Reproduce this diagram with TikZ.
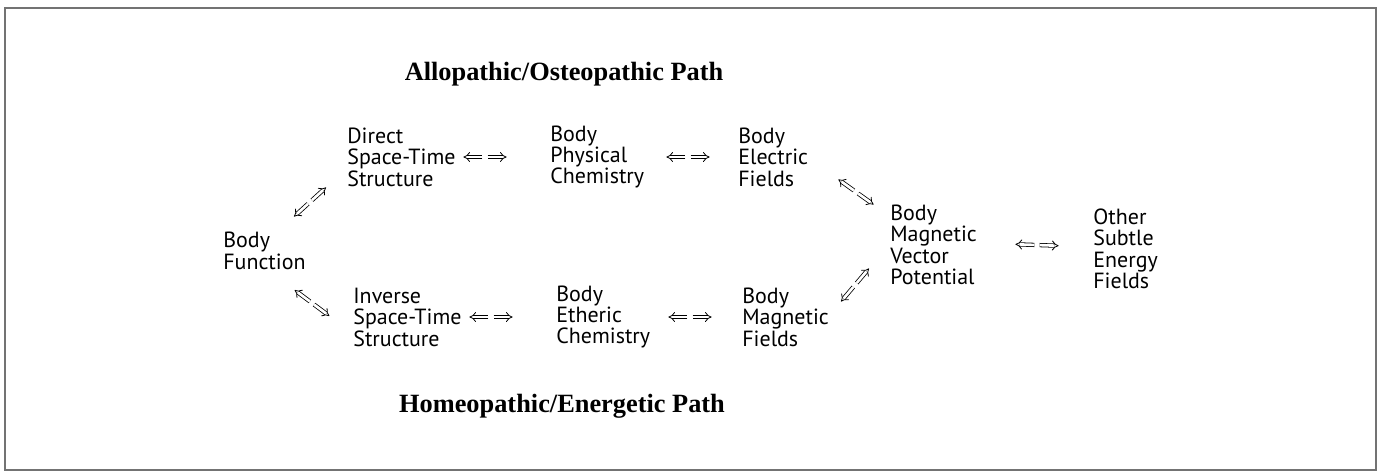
\documentclass[tikz,border=0pt]{standalone}
\usepackage{fontspec}
\setmainfont{Liberation Serif}
\newfontfamily\termfont{PT Sans}
\usetikzlibrary{arrows.meta,calc}

\newcommand\twoway[3]{%
  \draw[imp] let \p1=($(#3)-(#2)$), \n1={atan2(\y1,\x1)} in
    ($(#1)+(\n1+180:1.5pt)$) -- ($(#1)+(\n1+180:12.3pt)$);
  \draw[imp] let \p1=($(#3)-(#2)$), \n1={atan2(\y1,\x1)} in
    ($(#1)+(\n1:1.5pt)$) -- ($(#1)+(\n1:12.3pt)$);}

\begin{document}
\begin{tikzpicture}[
  x=0.02cm,y=-0.02cm,
  frame/.style={draw=black!55,line width=0.7pt},
  term/.style={font=\termfont\fontsize{12.5}{12.2}\selectfont,align=left,inner sep=0pt,anchor=west},
  heading/.style={font=\bfseries\fontsize{15}{16}\selectfont,inner sep=0pt},
  imp/.style={double,double distance=1.5pt,line width=0.45pt,-{Implies}},
]
\useasboundingbox (0,0) rectangle (1381,471);
\draw[frame] (5,8) rectangle (1376,470);

\node[heading] (allo) at (564,74) {Allopathic/Osteopathic Path};
\node[heading] (homeo) at (562,406) {Homeopathic/Energetic Path};

\node[term] (func) at (223,251) {Body\\Function};
\node[term] (direct) at (347,157) {Direct\\Space-Time\\Structure};
\node[term] (phys) at (550,157) {Body\\Physical\\Chemistry};
\node[term] (elec) at (738,157) {Body\\Electric\\Fields};
\node[term] (inv) at (353,317) {Inverse\\Space-Time\\Structure};
\node[term] (ether) at (556,317) {Body\\Etheric\\Chemistry};
\node[term] (magf) at (742,317) {Body\\Magnetic\\Fields};
\node[term] (vecpot) at (890,245) {Body\\Magnetic\\Vector\\Potential};
\node[term] (other) at (1093,249) {Other\\Subtle\\Energy\\Fields};

\coordinate (h1) at (485,157);
\coordinate (h2) at (688,157);
\coordinate (h3) at (491,317);
\coordinate (h4) at (690,317);
\coordinate (h5) at (1037,245);
\coordinate (d1) at (310,202);
\coordinate (d2) at (312,303);
\coordinate (d3) at (856,192);
\coordinate (d4) at (855,285);

\twoway{h1}{direct.east}{phys.west}
\twoway{h2}{phys.east}{elec.west}
\twoway{h3}{inv.east}{ether.west}
\twoway{h4}{ether.east}{magf.west}
\twoway{h5}{vecpot.east}{other.west}
\twoway{d1}{func.north}{direct.west}
\twoway{d2}{func}{inv.west}
\twoway{d3}{elec.south east}{vecpot.west}
\twoway{d4}{magf.east}{vecpot.west}

\end{tikzpicture}
\end{document}
